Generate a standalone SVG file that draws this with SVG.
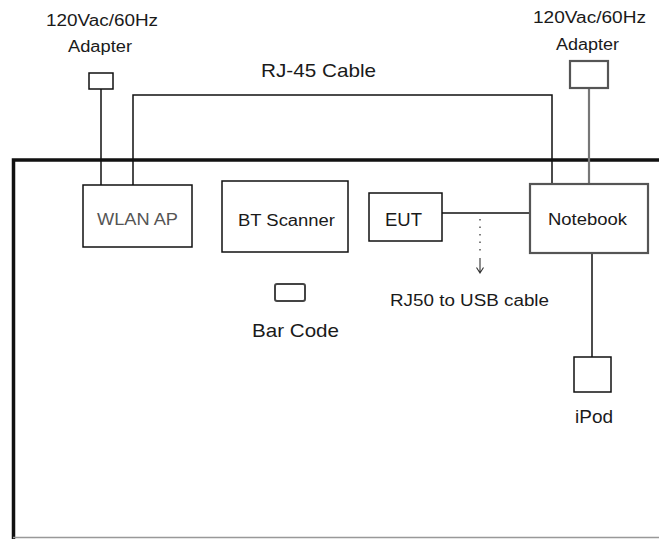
<svg xmlns="http://www.w3.org/2000/svg" width="659" height="539" viewBox="0 0 659 539">
<style>
.t{font-family:"Liberation Sans",Arial,sans-serif;fill:#1a1a1a;text-anchor:start}
.box{fill:#fff;stroke:#111;stroke-width:1.5}
.gbox{fill:#fff;stroke:#555;stroke-width:2.2}
.ln{fill:none;stroke:#111;stroke-width:1.5}
.gln{fill:none;stroke:#777;stroke-width:2.2}
</style>
<rect width="659" height="539" fill="#fff"/>
<g id="frame">
<path d="M13.5,539 V160 H659" fill="none" stroke="#111" stroke-width="3.5"/>
<line x1="13" y1="537.5" x2="659" y2="537.5" stroke="#999" stroke-width="1.5"/>
</g>
<g id="connectors">
<line class="ln" x1="101" y1="89" x2="101" y2="185"/>
<path class="ln" d="M133,185 V95 H552 V184"/>
<line class="gln" x1="589" y1="88" x2="589" y2="184"/>
<line class="ln" x1="442" y1="213" x2="530" y2="213"/>
<line class="ln" x1="592" y1="253" x2="592" y2="357"/>
<line x1="480" y1="219" x2="480" y2="252" stroke="#555" stroke-width="1.5" stroke-dasharray="1.5 6"/>
<path d="M480,258 V273 M476.5,267.5 L480,273 L483.5,267.5" fill="none" stroke="#333" stroke-width="1.1"/>
<text class="t" x="390" y="306" font-size="16" textLength="159" lengthAdjust="spacingAndGlyphs">RJ50 to USB cable</text>
<text class="t" x="261" y="77" font-size="19" textLength="115" lengthAdjust="spacingAndGlyphs">RJ-45 Cable</text>
</g>
<g id="adapter-left">
<rect class="box" x="89" y="73" width="24" height="16"/>
<text class="t" x="46" y="26" font-size="16" textLength="112" lengthAdjust="spacingAndGlyphs">120Vac/60Hz</text>
<text class="t" x="68" y="52" font-size="16" textLength="64" lengthAdjust="spacingAndGlyphs">Adapter</text>
</g>
<g id="adapter-right">
<rect class="gbox" x="570" y="61" width="38" height="27"/>
<text class="t" x="533" y="23" font-size="16" textLength="113" lengthAdjust="spacingAndGlyphs">120Vac/60Hz</text>
<text class="t" x="556" y="50" font-size="16" textLength="63" lengthAdjust="spacingAndGlyphs">Adapter</text>
</g>
<g id="wlan-ap">
<rect class="box" x="83" y="185" width="109" height="62"/>
<text class="t" x="97" y="225" font-size="16" textLength="81" lengthAdjust="spacingAndGlyphs" style="fill:#555">WLAN AP</text>
</g>
<g id="bt-scanner">
<rect class="box" x="222" y="181" width="126" height="71"/>
<text class="t" x="238" y="226" font-size="16" textLength="97" lengthAdjust="spacingAndGlyphs">BT Scanner</text>
</g>
<g id="eut">
<rect class="box" x="369" y="193" width="73" height="48"/>
<text class="t" x="385" y="226" font-size="19" textLength="37" lengthAdjust="spacingAndGlyphs">EUT</text>
</g>
<g id="notebook">
<rect class="gbox" x="530" y="184" width="118" height="69"/>
<text class="t" x="548" y="225" font-size="16" textLength="79" lengthAdjust="spacingAndGlyphs">Notebook</text>
</g>
<g id="bar-code">
<rect x="275" y="284" width="30" height="17" rx="2" fill="#fff" stroke="#444" stroke-width="2"/>
<text class="t" x="252" y="337" font-size="19" textLength="87" lengthAdjust="spacingAndGlyphs">Bar Code</text>
</g>
<g id="ipod">
<rect class="box" x="574" y="357" width="37" height="35"/>
<text class="t" x="575" y="423" font-size="18" textLength="38" lengthAdjust="spacingAndGlyphs">iPod</text>
</g>
</svg>
